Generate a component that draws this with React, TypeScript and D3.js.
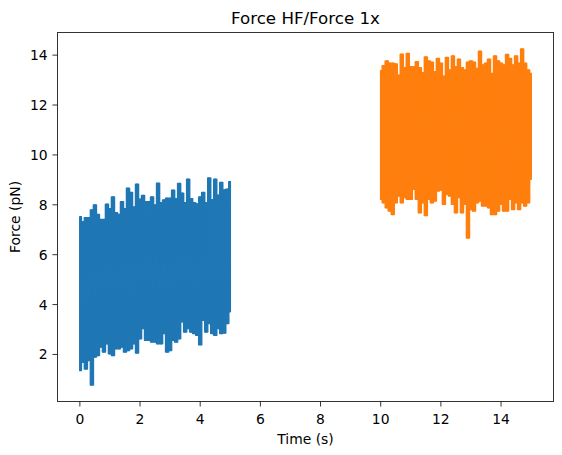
import React from 'react';
import * as d3 from 'd3';

// Time samples (s) for each trace
const blueTime = [0, 0.1, 0.2, 0.3, 0.4, 0.5, 0.6, 0.7, 0.8, 0.9, 1.0, 1.1, 1.2, 1.3, 1.4, 1.5, 1.6, 1.7, 1.8, 1.9, 2.0, 2.1, 2.2, 2.3, 2.4, 2.5, 2.6, 2.7, 2.8, 2.9, 3.0, 3.1, 3.2, 3.3, 3.4, 3.5, 3.6, 3.7, 3.8, 3.9, 4.0, 4.1, 4.2, 4.3, 4.4, 4.5, 4.6, 4.7, 4.8, 4.9, 5.0];
// Oscillation peaks / troughs of the force signal (pN)
const blueHigh = [7.52, 7.32, 7.48, 7.48, 7.79, 7.99, 7.61, 7.41, 7.41, 8.02, 7.84, 8.31, 7.68, 7.61, 8.12, 7.84, 8.66, 8.49, 7.91, 8.82, 8.22, 8.37, 8.12, 8.12, 8.31, 7.99, 8.86, 8.08, 8.19, 8.26, 8.26, 8.58, 8.24, 8.85, 8.46, 8.08, 9.02, 8.24, 8.08, 8.03, 8.31, 8.49, 8.08, 9.07, 8.2, 9.02, 8.38, 8.89, 8.59, 8.62, 8.92];
const blueLow = [1.36, 1.69, 1.42, 1.76, 0.78, 1.9, 1.96, 2.3, 2.1, 2.43, 2.03, 1.96, 2.23, 2.23, 2.3, 2.1, 2.16, 2.23, 2.43, 2.06, 2.63, 3.04, 2.57, 2.57, 2.5, 2.5, 2.43, 2.43, 2.84, 2.1, 2.16, 2.57, 2.5, 2.63, 3.31, 2.9, 3.04, 2.9, 2.84, 2.77, 2.39, 3.37, 2.9, 3.24, 2.84, 2.77, 3.04, 2.84, 2.86, 3.24, 3.71];

const orangeTime = [10.0, 10.1, 10.2, 10.3, 10.4, 10.5, 10.6, 10.7, 10.8, 10.9, 11.0, 11.1, 11.2, 11.3, 11.4, 11.5, 11.6, 11.7, 11.8, 11.9, 12.0, 12.1, 12.2, 12.3, 12.4, 12.5, 12.6, 12.7, 12.8, 12.9, 13.0, 13.1, 13.2, 13.3, 13.4, 13.5, 13.6, 13.7, 13.8, 13.9, 14.0, 14.1, 14.2, 14.3, 14.4, 14.5, 14.6, 14.7, 14.8, 14.9, 15.0];
const orangeHigh = [13.37, 13.57, 13.76, 13.67, 13.67, 13.64, 13.19, 14.04, 13.49, 14.07, 13.53, 13.53, 13.73, 13.49, 13.29, 13.93, 13.76, 13.71, 13.33, 13.87, 13.67, 13.15, 13.91, 13.4, 13.97, 13.53, 13.84, 13.49, 13.4, 13.71, 13.76, 13.71, 13.46, 14.16, 13.6, 13.67, 13.84, 13.26, 13.97, 13.76, 13.67, 13.6, 14.03, 13.87, 13.6, 13.97, 13.67, 14.25, 13.67, 13.4, 13.26];
const orangeLow = [8.22, 8.08, 7.88, 7.75, 7.61, 8.08, 8.35, 8.08, 8.29, 8.22, 8.22, 8.62, 8.22, 7.68, 8.08, 7.57, 8.22, 8.08, 8.15, 8.55, 8.59, 8.02, 8.42, 8.35, 8.02, 7.68, 8.29, 7.68, 8.02, 6.67, 7.81, 7.75, 8.08, 8.15, 7.95, 7.95, 7.88, 7.61, 7.61, 7.75, 8.02, 7.75, 7.75, 8.22, 7.81, 8.08, 7.81, 8.08, 7.95, 8.08, 9.02];

const xTicks = [0, 2, 4, 6, 8, 10, 12, 14];
const yTicks = [2, 4, 6, 8, 10, 12, 14];

const title = 'Force HF/Force 1x';
const xLabel = 'Time (s)';
const yLabel = 'Force (pN)';

const W = 562;
const H = 455;
const M = { left: 57.3, right: 553.7, top: 32.1, bottom: 401.7 };
const FONT = '"DejaVu Sans", sans-serif';

function pad(ext: [number, number]): [number, number] {
  const d = ext[1] - ext[0];
  return [ext[0] - 0.05 * d, ext[1] + 0.05 * d];
}

export default function App() {
  const allT = [...blueTime, ...orangeTime];
  const allY = [...blueHigh, ...blueLow, ...orangeHigh, ...orangeLow];
  const x = d3.scaleLinear().domain(pad(d3.extent(allT) as [number, number])).range([M.left, M.right]);
  const y = d3.scaleLinear().domain(pad(d3.extent(allY) as [number, number])).range([M.bottom, M.top]);

  const series = [
    { t: blueTime, hi: blueHigh, lo: blueLow, color: '#1f77b4' },
    { t: orangeTime, hi: orangeHigh, lo: orangeLow, color: '#ff7f0e' },
  ];

  const paths = series.map((s, k) => {
    const idx = s.t.map((_, i) => i);
    const area = d3
      .area<number>()
      .x((i) => x(s.t[i]))
      .y0((i) => y(s.lo[i]))
      .y1((i) => y(s.hi[i]))
      .curve(d3.curveStep);
    const zig: [number, number][] = [];
    s.t.forEach((t, i) => {
      zig.push([x(t), y(s.hi[i])]);
      zig.push([x(t), y(s.lo[i])]);
    });
    const line = d3.line();
    return (
      <g key={k}>
        <path d={area(idx) || ''} fill={s.color} stroke={s.color} strokeWidth={1.5} strokeLinejoin="round" />
        <path d={line(zig) || ''} fill="none" stroke={s.color} strokeWidth={1.5} strokeLinejoin="round" />
      </g>
    );
  });

  return (
    <svg width={W} height={H} style={{ position: 'absolute', left: 0, top: 0, background: '#fff' }} fontFamily={FONT}>
      <rect x={0} y={0} width={W} height={H} fill="#fff" />
      <clipPath id="plot">
        <rect x={M.left} y={M.top} width={M.right - M.left} height={M.bottom - M.top} />
      </clipPath>
      <g clipPath="url(#plot)">{paths}</g>
      {/* spines */}
      <rect
        x={M.left}
        y={M.top}
        width={M.right - M.left}
        height={M.bottom - M.top}
        fill="none"
        stroke="#000"
        strokeWidth={0.8}
        shapeRendering="crispEdges"
      />
      {/* x ticks */}
      {xTicks.map((t) => (
        <g key={'x' + t}>
          <line x1={x(t)} x2={x(t)} y1={M.bottom} y2={M.bottom + 4.86} stroke="#000" strokeWidth={0.8} />
          <text x={x(t)} y={M.bottom + 22} fontSize={13.9} textAnchor="middle" fill="#000">
            {t}
          </text>
        </g>
      ))}
      {/* y ticks */}
      {yTicks.map((t) => (
        <g key={'y' + t}>
          <line x1={M.left - 4.86} x2={M.left} y1={y(t)} y2={y(t)} stroke="#000" strokeWidth={0.8} />
          <text x={M.left - 9.7} y={y(t) + 5} fontSize={13.9} textAnchor="end" fill="#000">
            {t}
          </text>
        </g>
      ))}
      <text x={(M.left + M.right) / 2} y={443.5} fontSize={13.9} textAnchor="middle" fill="#000">
        {xLabel}
      </text>
      <text
        transform={`translate(20, ${(M.top + M.bottom) / 2}) rotate(-90)`}
        fontSize={13.9}
        textAnchor="middle"
        fill="#000"
      >
        {yLabel}
      </text>
      <text x={(M.left + M.right) / 2} y={23.8} fontSize={16.67} textAnchor="middle" fill="#000">
        {title}
      </text>
    </svg>
  );
}
